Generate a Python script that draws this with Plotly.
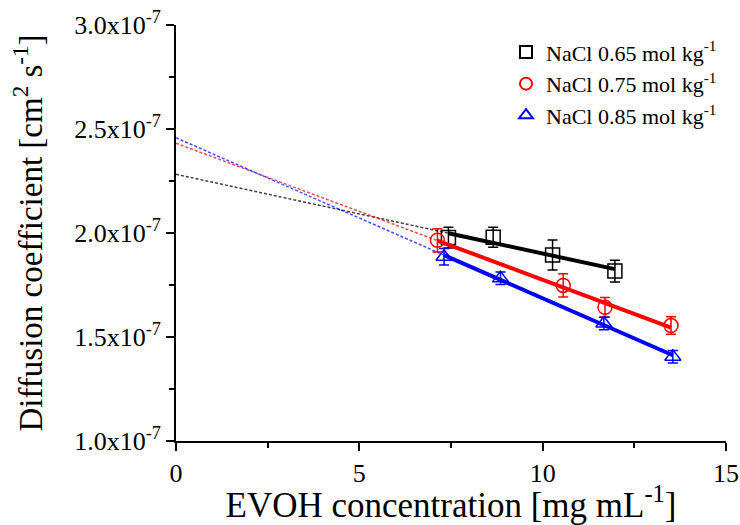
import numpy as np
import plotly.graph_objects as go

# EVOH concentration [mg/mL] and diffusion coefficients [cm^2/s]
x_065 = [7.43, 8.65, 10.27, 11.97]
y_065 = [1.978e-7, 1.980e-7, 1.894e-7, 1.817e-7]
e_065 = [0.05e-7, 0.048e-7, 0.072e-7, 0.052e-7]

x_075 = [7.13, 10.56, 11.70, 13.50]
y_075 = [1.965e-7, 1.748e-7, 1.643e-7, 1.555e-7]
e_075 = [0.056e-7, 0.056e-7, 0.047e-7, 0.042e-7]

x_085 = [7.31, 8.85, 11.67, 13.55]
y_085 = [1.886e-7, 1.782e-7, 1.565e-7, 1.405e-7]
e_085 = [0.04e-7, 0.03e-7, 0.03e-7, 0.03e-7]

labels = ["NaCl 0.65 mol kg<sup>-1</sup>", "NaCl 0.75 mol kg<sup>-1</sup>", "NaCl 0.85 mol kg<sup>-1</sup>"]
colors = ["black", "red", "blue"]
dash_colors = ["rgba(0,0,0,0.75)", "rgba(255,0,0,0.7)", "rgba(0,0,255,0.7)"]
symbols = ["square-open", "circle-open", "triangle-up-open"]

y_tickvals = [1.0e-7, 1.5e-7, 2.0e-7, 2.5e-7, 3.0e-7]
y_ticktext = ["1.0x10<sup>-7</sup>", "1.5x10<sup>-7</sup>", "2.0x10<sup>-7</sup>",
              "2.5x10<sup>-7</sup>", "3.0x10<sup>-7</sup>"]
x_tickvals = [0, 5, 10, 15]

FONT = "Liberation Serif, Times New Roman, serif"

fig = go.Figure()
series = [(x_065, y_065, e_065), (x_075, y_075, e_075), (x_085, y_085, e_085)]

for (xs, ys, es), lab, c, s in zip(series, labels, colors, symbols):
    fig.add_trace(go.Scatter(
        x=xs, y=ys, mode="markers", name=lab,
        marker=dict(symbol=s, size=14, color=c, line=dict(width=1.5, color=c)),
        error_y=dict(type="data", array=es, visible=True, color=c, thickness=1.5, width=5),
    ))

for (xs, ys, es), c, dc in zip(series, colors, dash_colors):
    slope, intercept = np.polyfit(xs, ys, 1)
    xa = np.array([0.0, xs[0]])
    fig.add_trace(go.Scatter(x=xa, y=intercept + slope * xa, mode="lines", showlegend=False,
                             line=dict(color=dc, width=1.5, dash="3px,2px"), hoverinfo="skip"))
    xb = np.array([xs[0], xs[-1]])
    fig.add_trace(go.Scatter(x=xb, y=intercept + slope * xb, mode="lines", showlegend=False,
                             line=dict(color=c, width=4), hoverinfo="skip"))

fig.update_layout(
    width=740, height=525,
    margin=dict(l=176, r=14, t=25, b=84),
    paper_bgcolor="white", plot_bgcolor="white",
    font=dict(family=FONT, color="black", size=26),
    showlegend=True,
    legend=dict(x=0.6, y=0.985, xanchor="left", yanchor="top",
                font=dict(family=FONT, size=22, color="black"),
                bgcolor="rgba(0,0,0,0)", tracegroupgap=0, itemsizing="constant"),
    xaxis=dict(range=[0, 15], tickvals=x_tickvals, showgrid=False, zeroline=False, automargin=False,
               showline=True, linecolor="black", linewidth=2,
               ticks="outside", ticklen=8, tickwidth=2, tickcolor="black",
               minor=dict(ticks="outside", ticklen=5, tickwidth=1.5, tickcolor="black", dtick=2.5, showgrid=False),
               tickfont=dict(family=FONT, size=26),
               title=dict(text="EVOH concentration [mg mL<sup>-1</sup>]",
                          font=dict(family=FONT, size=35), standoff=10)),
    yaxis=dict(range=[1.0e-7, 3.0e-7], tickvals=y_tickvals, ticktext=y_ticktext,
               showgrid=False, zeroline=False, automargin=False,
               showline=True, linecolor="black", linewidth=2,
               ticks="outside", ticklen=8, tickwidth=2, tickcolor="black",
               minor=dict(ticks="outside", ticklen=5, tickwidth=1.5, tickcolor="black", dtick=0.25e-7, showgrid=False),
               tickfont=dict(family=FONT, size=26),
               title=dict(text="Diffusion coefficient [cm<sup>2</sup> s<sup>-1</sup>]",
                          font=dict(family=FONT, size=33), standoff=22)),
)

fig.write_html("out.html")
